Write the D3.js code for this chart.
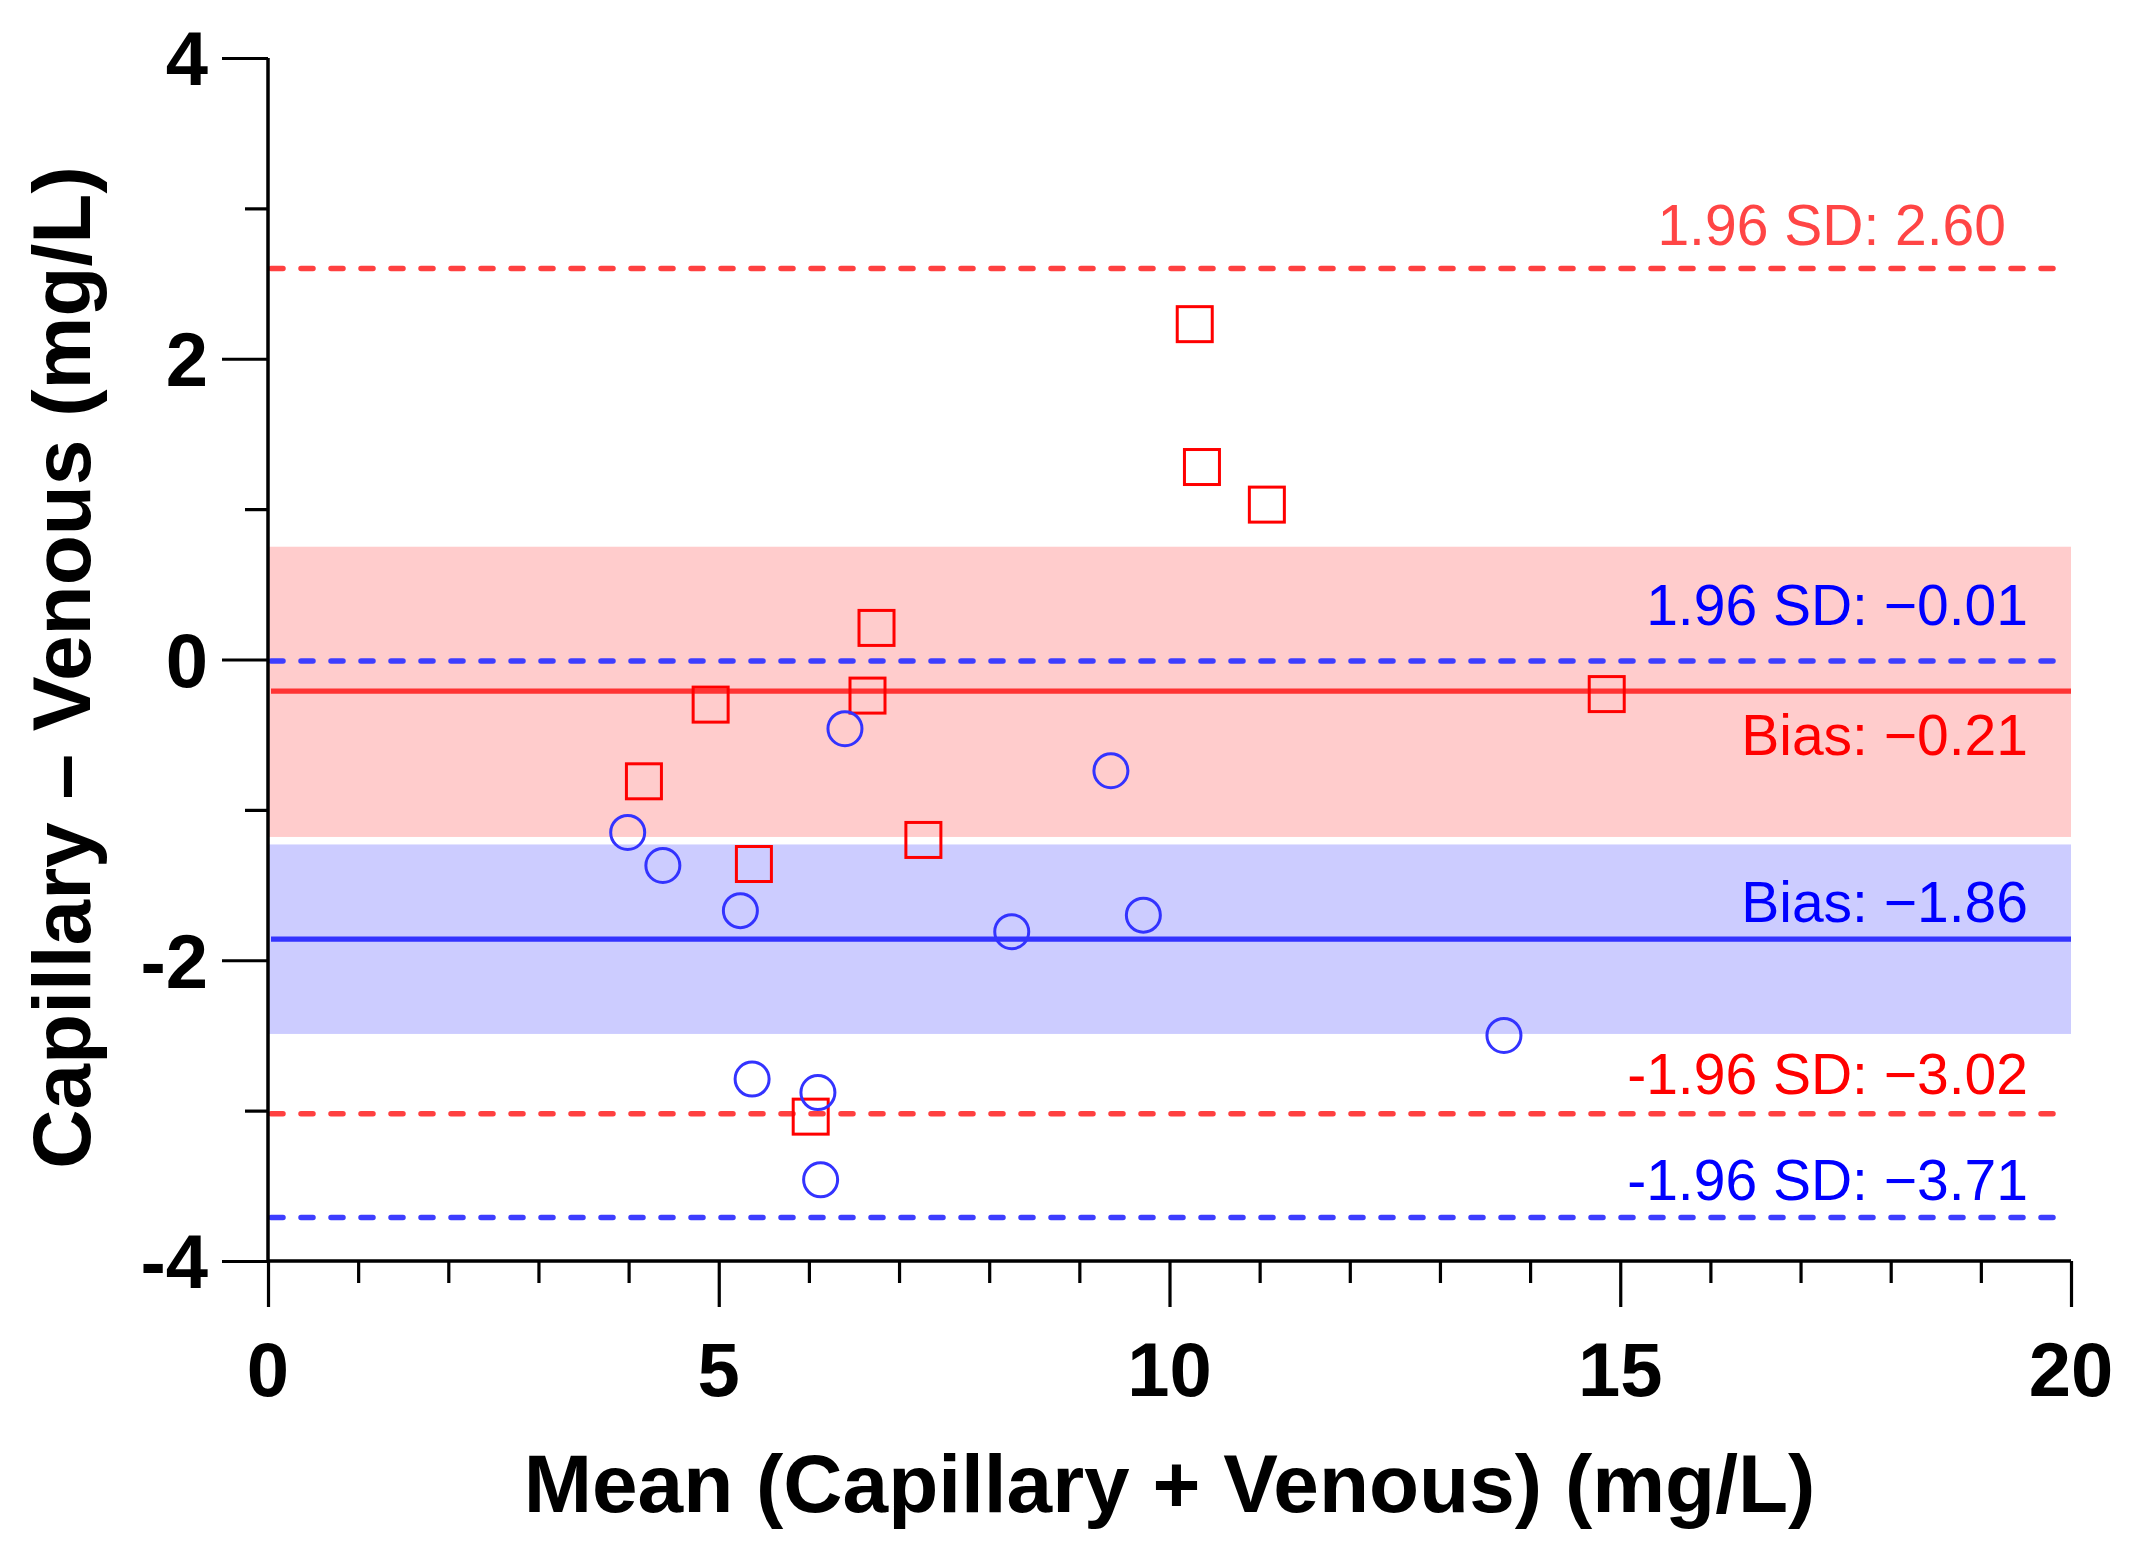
<!DOCTYPE html>
<html>
<head>
<meta charset="utf-8">
<script src="https://cdn.jsdelivr.net/npm/d3@7"></script>
<style>
  body { margin: 0; background: #fff; }
  svg { display: block; font-family: "Liberation Sans", Arial, sans-serif; }
</style>
</head>
<body>
<svg id="chart" width="2141" height="1565"></svg>
<script>
// red group (squares)
const redX = [6.75, 4.91, 6.65, 4.17, 5.39, 7.27, 6.02, 10.28, 10.36, 11.08, 14.85];
const redY = [0.21, -0.30, -0.24, -0.81, -1.36, -1.20, -3.04, 2.23, 1.28, 1.03, -0.23];

// blue group (circles)
const blueX = [6.40, 9.35, 3.99, 4.38, 5.24, 8.25, 9.71, 5.37, 6.10, 6.13, 13.71];
const blueY = [-0.46, -0.74, -1.15, -1.37, -1.67, -1.81, -1.70, -2.79, -2.88, -3.46, -2.50];

// bias, limits of agreement and CI bands
const redBias = -0.21, redUpper = 2.60, redLower = -3.02, redBand = [0.75, -1.18];
const blueBias = -1.86, blueUpper = -0.01, blueLower = -3.71, blueBand = [-1.23, -2.49];

const labelTexts = ["1.96 SD: 2.60", "1.96 SD: \u22120.01", "Bias: \u22120.21",
                    "Bias: \u22121.86", "-1.96 SD: \u22123.02", "-1.96 SD: \u22123.71"];
const labelValues = [redUpper, blueUpper, redBias, blueBias, redLower, blueLower];
const labelGroups = ["redLight", "blue", "red", "blue", "red", "blue"];

const xTicks = [0, 5, 10, 15, 20];
const yTicks = [-4, -2, 0, 2, 4];

const xTitle = "Mean (Capillary + Venous) (mg/L)";
const yTitle = "Capillary \u2013 Venous (mg/L)";

// layout
const pLeft = 268, pRight = 2071, pTop = 58, pBottom = 1261;
const labelDy = [-24, -36, 64, -17, -20, -17];
const labelRight = [2006, 2028, 2028, 2028, 2028, 2028];
const textColor = { redLight: "#ff4545", red: "#ff0000", blue: "#0000ff" };

const svg = d3.select("#chart");

const x = d3.scaleLinear().domain([0, 20]).range([pLeft, pRight]);
const y = d3.scaleLinear().domain([-4, 4]).range([pBottom, pTop]);

// CI bands
const bands = [
  { b: redBand, fill: "#ffcccc" },
  { b: blueBand, fill: "#ccccff" }
];
svg.selectAll("rect.band")
  .data(bands)
  .enter()
  .append("rect")
  .attr("class", "band")
  .attr("x", x(0))
  .attr("width", x(20) - x(0))
  .attr("y", d => y(d.b[0]))
  .attr("height", d => y(d.b[1]) - y(d.b[0]))
  .attr("fill", d => d.fill);

// horizontal reference lines
const hlines = [
  { v: redUpper, color: "#ff4040", dash: true },
  { v: redLower, color: "#ff4040", dash: true },
  { v: blueUpper, color: "#3d3dff", dash: true },
  { v: blueLower, color: "#3d3dff", dash: true },
  { v: redBias, color: "#ff3333", dash: false },
  { v: blueBias, color: "#3333ff", dash: false }
];
svg.selectAll("line.ref")
  .data(hlines)
  .enter()
  .append("line")
  .attr("class", "ref")
  .attr("x1", x(0) + 3)
  .attr("x2", x(20))
  .attr("y1", d => y(d.v))
  .attr("y2", d => y(d.v))
  .attr("stroke", d => d.color)
  .attr("stroke-width", d => d.dash ? 5.5 : 5.2)
  .attr("stroke-linecap", d => d.dash ? "round" : "butt")
  .attr("stroke-dasharray", d => d.dash ? "12 18" : null);

// labels for the lines
svg.selectAll("text.lab")
  .data(labelTexts)
  .enter()
  .append("text")
  .attr("class", "lab")
  .attr("x", (d, i) => labelRight[i])
  .attr("y", (d, i) => y(labelValues[i]) + labelDy[i])
  .attr("text-anchor", "end")
  .attr("font-size", "57px")
  .attr("fill", (d, i) => textColor[labelGroups[i]])
  .text(d => d);

// markers
const sq = 35;
svg.selectAll("rect.red")
  .data(d3.zip(redX, redY))
  .enter()
  .append("rect")
  .attr("class", "red")
  .attr("x", d => x(d[0]) - sq / 2)
  .attr("y", d => y(d[1]) - sq / 2)
  .attr("width", sq)
  .attr("height", sq)
  .attr("fill", "none")
  .attr("stroke", "#ff0000")
  .attr("stroke-width", 3);

svg.selectAll("circle.blue")
  .data(d3.zip(blueX, blueY))
  .enter()
  .append("circle")
  .attr("class", "blue")
  .attr("cx", d => x(d[0]))
  .attr("cy", d => y(d[1]))
  .attr("r", 17)
  .attr("fill", "none")
  .attr("stroke", "#3333ff")
  .attr("stroke-width", 3);

// axes
const xAxis = svg.append("g").attr("transform", `translate(0,${pBottom})`);
xAxis.call(d3.axisBottom(x).tickValues(d3.range(0, 21)).tickSize(22).tickFormat(""));
xAxis.call(g => g.selectAll(".tick line")
  .filter(d => xTicks.includes(d))
  .attr("y2", 46));
xAxis.selectAll("text.xt")
  .data(xTicks)
  .enter()
  .append("text")
  .attr("class", "xt")
  .attr("x", d => x(d))
  .attr("y", 135)
  .attr("text-anchor", "middle")
  .attr("font-size", "76px")
  .attr("font-weight", "bold")
  .attr("fill", "#000")
  .text(d => d);

const yAxis = svg.append("g").attr("transform", `translate(${pLeft},0)`);
yAxis.call(d3.axisLeft(y).tickValues(d3.range(-4, 5)).tickSize(23).tickFormat(""));
yAxis.call(g => g.selectAll(".tick line")
  .filter(d => yTicks.includes(d))
  .attr("x2", -46));
yAxis.selectAll("text.yt")
  .data(yTicks)
  .enter()
  .append("text")
  .attr("class", "yt")
  .attr("x", -60)
  .attr("y", d => y(d))
  .attr("dy", "0.36em")
  .attr("text-anchor", "end")
  .attr("font-size", "76px")
  .attr("font-weight", "bold")
  .attr("fill", "#000")
  .text(d => d < 0 ? "-" + Math.abs(d) : d);

[xAxis, yAxis].forEach(g => {
  g.select(".domain").attr("stroke", "#000").attr("stroke-width", 3.5)
    .attr("d", g === xAxis ? `M${pLeft},0H${pRight}` : `M0,${pBottom}V${pTop}`);
  g.selectAll(".tick line").attr("stroke", "#000").attr("stroke-width", 3.2);
});

// titles
svg.append("text")
  .attr("x", (pLeft + pRight) / 2)
  .attr("y", 1512)
  .attr("text-anchor", "middle")
  .attr("font-size", "82px")
  .attr("font-weight", "bold")
  .text(xTitle);

svg.append("text")
  .attr("transform", `translate(90,${(pTop + pBottom) / 2 + 8}) rotate(-90)`)
  .attr("text-anchor", "middle")
  .attr("font-size", "82px")
  .attr("font-weight", "bold")
  .text(yTitle);
</script>
</body>
</html>
